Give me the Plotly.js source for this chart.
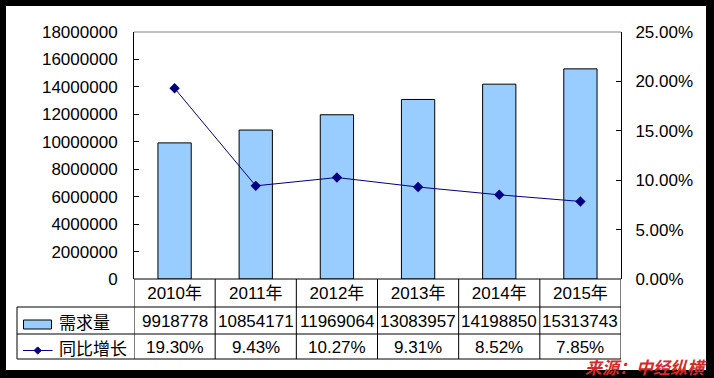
<!DOCTYPE html>
<html>
<head>
<meta charset="utf-8">
<script src="https://cdn.plot.ly/plotly-3.0.1.min.js"></script>
<style>
html,body{margin:0;padding:0;background:#000;}
#chart{width:714px;height:378px;}
</style>
</head>
<body>
<div id="chart"></div>
<script>
const years = ['2010年','2011年','2012年','2013年','2014年','2015年'];
const demand = [9918778, 10854171, 11969064, 13083957, 14198850, 15313743];
const growth = [0.1930, 0.0943, 0.1027, 0.0931, 0.0852, 0.0785];
const demandName = '需求量';
const growthName = '同比增长';
const sourceText = '来源：中经纵横';

const FONT = 'Liberation Sans, Arial, Noto Sans CJK SC, sans-serif';
const CJK = 'Noto Sans CJK SC, Liberation Sans, sans-serif';

// layout geometry (pixels -> paper)
const W = 714, H = 378, ML = 134, MR = 93, MT = 32, MB = 99;
const PW = W - ML - MR, PH = H - MT - MB;
const px = v => (v - ML) / PW;
const py = v => (H - MB - v) / PH;

const yRow1 = py(307), yRow2 = py(334), yRow3 = py(359);
const xTableLeft = px(17);

const shapes = [];
// white panel
shapes.push({type:'rect', xref:'paper', yref:'paper', x0:px(6), x1:px(706), y0:py(370), y1:py(6),
  fillcolor:'#ffffff', line:{width:0}, layer:'below'});
// top border of plot (grey)
shapes.push({type:'line', xref:'paper', yref:'paper', x0:0, x1:1, y0:1, y1:1, line:{color:'#808080', width:1}});
// table horizontals
shapes.push({type:'line', xref:'paper', yref:'paper', x0:0, x1:1, y0:0, y1:0, line:{color:'#000', width:1}});
[yRow1, yRow2, yRow3].forEach(y => shapes.push({type:'line', xref:'paper', yref:'paper', x0:xTableLeft, x1:1, y0:y, y1:y, line:{color:'#000', width:1}}));
// table verticals at category boundaries
for (let i = 0; i <= years.length; i++) {
  shapes.push({type:'line', xref:'x', yref:'paper', x0:i-0.5, x1:i-0.5, y0:yRow3, y1:0, line:{color:'#000', width:1}});
}
shapes.push({type:'line', xref:'paper', yref:'paper', x0:xTableLeft, x1:xTableLeft, y0:yRow3, y1:yRow1, line:{color:'#000', width:1}});
// legend key: bar swatch
shapes.push({type:'rect', xref:'paper', yref:'paper', x0:px(23.5), x1:px(51.5), y0:py(329), y1:py(320),
  fillcolor:'#99CCFF', line:{color:'#000', width:1}});
// legend key: line + diamond
const ly = py(350.5);
shapes.push({type:'line', xref:'paper', yref:'paper', x0:px(23), x1:px(52.5), y0:ly, y1:ly, line:{color:'#000080', width:1}});
const dcx = px(37.7), dx = 3.6 / PW, dy = 3.6 / PH;
shapes.push({type:'path', xref:'paper', yref:'paper',
  path:`M ${dcx-dx} ${ly} L ${dcx} ${ly+dy} L ${dcx+dx} ${ly} L ${dcx} ${ly-dy} Z`,
  fillcolor:'#000080', line:{color:'#000080', width:1}});

const annotations = [];
const rowMid2 = py(321), rowMid3 = py(347);
years.forEach((yr, i) => {
  annotations.push({xref:'x', yref:'paper', x:yr, y:rowMid2, text:String(demand[i]), showarrow:false,
    xanchor:'center', yanchor:'middle', font:{family:FONT, size:17, color:'#000'}});
  annotations.push({xref:'x', yref:'paper', x:yr, y:rowMid3, text:(growth[i]*100).toFixed(2)+'%', showarrow:false,
    xanchor:'center', yanchor:'middle', font:{family:FONT, size:17, color:'#000'}});
});
annotations.push({xref:'paper', yref:'paper', x:px(57), y:rowMid2, text:demandName, showarrow:false,
  xanchor:'left', yanchor:'middle', font:{family:CJK, size:17, color:'#000'}});
annotations.push({xref:'paper', yref:'paper', x:px(57), y:rowMid3, text:growthName, showarrow:false,
  xanchor:'left', yanchor:'middle', font:{family:CJK, size:17, color:'#000'}});
annotations.push({xref:'paper', yref:'paper', x:px(709), y:py(366), text:'<b><i>'+sourceText+'</i></b>', showarrow:false,
  xanchor:'right', yanchor:'middle', font:{family:CJK, size:17, color:'#D42A2A'}});

const traces = [
  {type:'bar', name:demandName, x:years, y:demand, width:0.41,
   marker:{color:'#99CCFF', line:{color:'#000', width:1}}, hoverinfo:'skip'},
  {type:'scatter', mode:'lines+markers', name:growthName, x:years, y:growth, yaxis:'y2',
   line:{color:'#000080', width:1}, marker:{symbol:'diamond', size:8, color:'#000080'}, hoverinfo:'skip', cliponaxis:false}
];

const layout = {
  width:W, height:H,
  margin:{l:ML, r:MR, t:MT, b:MB, pad:0},
  paper_bgcolor:'#000000', plot_bgcolor:'#ffffff',
  showlegend:false,
  font:{family:FONT, size:17, color:'#000'},
  xaxis:{type:'category', range:[-0.5, years.length-0.5], showline:false, showgrid:false, zeroline:false,
    ticks:'', tickfont:{family:FONT, size:17, color:'#000'}, ticklabelstandoff:2, fixedrange:true},
  yaxis:{range:[0, 18000000], dtick:2000000, tickformat:'d', ticks:'inside', ticklen:5, tickcolor:'#000',
    showline:true, linecolor:'#000', linewidth:1, showgrid:false, zeroline:false,
    tickfont:{family:FONT, size:17, color:'#000'}, ticklabelstandoff:12},
  yaxis2:{overlaying:'y', side:'right', range:[0, 0.25], dtick:0.05, tickformat:'.2%', ticks:'inside', ticklen:5,
    tickcolor:'#000', showline:true, linecolor:'#000', linewidth:1, showgrid:false, zeroline:false,
    tickfont:{family:FONT, size:17, color:'#000'}, ticklabelstandoff:10},
  shapes:shapes,
  annotations:annotations
};

Plotly.newPlot('chart', traces, layout, {displayModeBar:false, staticPlot:true});
</script>
</body>
</html>
